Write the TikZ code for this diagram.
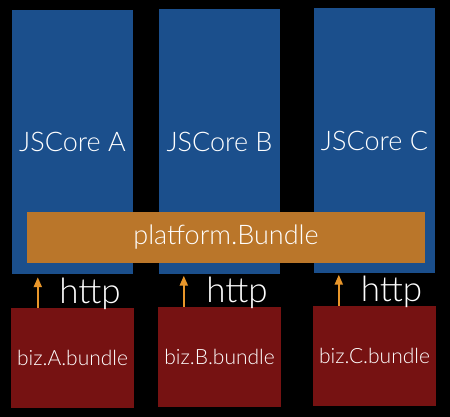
\documentclass[tikz,border=0pt]{standalone}
\usepackage{fontspec}
\setmainfont{Lato}[UprightFont={* Light}]
\usetikzlibrary{arrows.meta}

\definecolor{coreblue}{RGB}{27,79,140}
\definecolor{bundleorange}{RGB}{186,118,42}
\definecolor{bizred}{RGB}{118,18,18}
\definecolor{httporange}{RGB}{232,150,42}

\begin{document}
\begin{tikzpicture}[x=1pt,y=-1pt,
    core/.style={fill=coreblue,minimum width=121pt,minimum height=264pt,inner sep=0pt,text=white,font=\fontsize{27}{32}\selectfont},
    biz/.style={fill=bizred,minimum width=123pt,minimum height=100pt,inner sep=0pt,text=white,font=\fontsize{21}{25}\selectfont},
    httplabel/.style={anchor=base,text=white,font=\fontsize{35}{40}\selectfont},
    call/.style={draw=httporange,line width=2pt,-{Triangle[width=8pt,length=10pt]}}]
        % Background
        \fill[black] (0,0) rectangle (450,417);

        % JSCore boxes
        \node[core] (coreA) at (72.5,142) {JSCore A};
        \node[core] (coreB) at (219.5,141.5) {JSCore B};
        \node[core] (coreC) at (374.5,140.5) {JSCore C};

        % Shared platform bundle
        \node[fill=bundleorange,minimum width=398pt,minimum height=51pt,inner sep=0pt,text=white,font=\fontsize{27}{32}\selectfont] (platform) at (226,237.5) {platform.Bundle};

        % Business bundles
        \node[biz] (bizA) at (72.5,358) {biz.A.bundle};
        \node[biz] (bizB) at (219.5,357) {biz.B.bundle};
        \node[biz] (bizC) at (374.5,356) {biz.C.bundle};

        % http calls
        \draw[call] ([xshift=27pt]bizA.north west) -- ([xshift=26pt,yshift=-3pt]coreA.south west);
        \draw[call] ([xshift=26pt]bizB.north west) -- ([xshift=25pt,yshift=-2pt]coreB.south west);
        \draw[call] ([xshift=26pt]bizC.north west) -- ([xshift=25pt,yshift=-2pt]coreC.south west);
        \node[httplabel] (httpA) at (90,303) {http};
        \node[httplabel] (httpB) at (237,302) {http};
        \node[httplabel] (httpC) at (391.5,301) {http};
\end{tikzpicture}
\end{document}
